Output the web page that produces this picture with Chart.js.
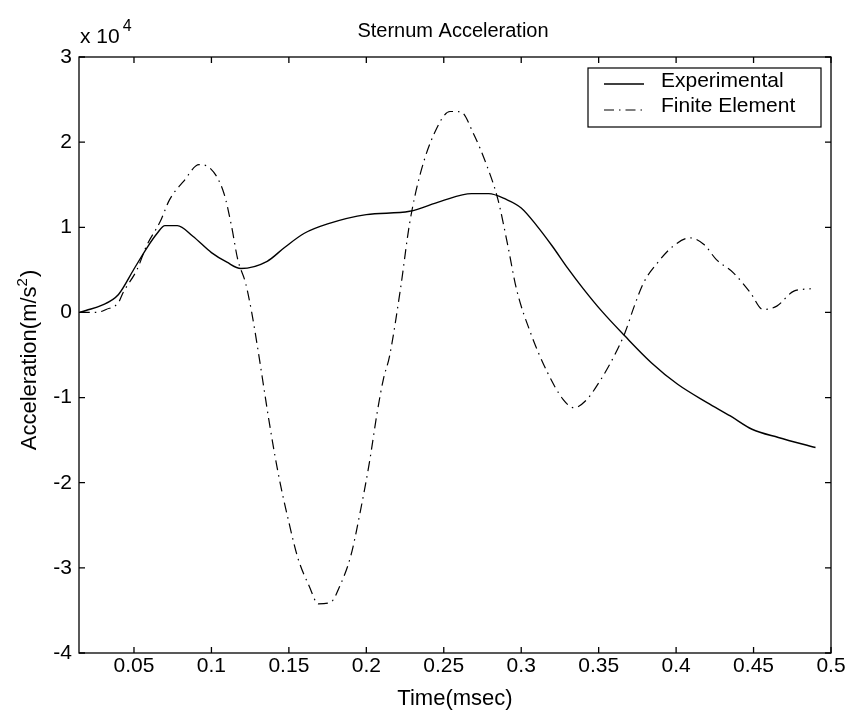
<!DOCTYPE html>
<html>
<head>
<meta charset="utf-8">
<script src="https://cdn.jsdelivr.net/npm/chart.js@4.4.1/dist/chart.umd.min.js"></script>
<style>
  body { margin: 0; background: #fff; }
  #wrap { width: 850px; height: 710px; }
</style>
</head>
<body>
<div id="wrap"><canvas id="accelChart" width="850" height="710"></canvas></div>
<script>
// Veriler
const xTicks = [0.05, 0.1, 0.15, 0.2, 0.25, 0.3, 0.35, 0.4, 0.45, 0.5];
const yTicks = [-40000, -30000, -20000, -10000, 0, 10000, 20000, 30000];

const expTime = [0.015, 0.019, 0.029, 0.040, 0.050, 0.059, 0.065, 0.070, 0.078, 0.088, 0.100, 0.110,
  0.119, 0.136, 0.147, 0.160, 0.175, 0.200, 0.228, 0.248, 0.268, 0.279, 0.290, 0.300, 0.310, 0.320,
  0.330, 0.340, 0.352, 0.367, 0.384, 0.401, 0.420, 0.435, 0.449, 0.466, 0.490];
const expAccel = [0, 230, 820, 2110, 5100, 7770, 9300, 10200, 10200, 8950, 7030, 5900,
  5160, 6010, 7600, 9300, 10400, 11490, 11880, 13050, 13950, 13950, 13300, 12270, 10200, 7800,
  5200, 2800, 150, -2780, -5900, -8440, -10590, -12160, -13720, -14690, -15860];

const feTime = [0.015, 0.026, 0.032, 0.040, 0.043, 0.052, 0.058, 0.067, 0.073, 0.082, 0.092, 0.099,
  0.108, 0.113, 0.117, 0.122, 0.126, 0.130, 0.134, 0.137, 0.143, 0.150, 0.156, 0.163, 0.169, 0.177,
  0.183, 0.190, 0.196, 0.202, 0.207, 0.211, 0.215, 0.222, 0.228, 0.235, 0.244, 0.254, 0.261, 0.269,
  0.278, 0.285, 0.291, 0.297, 0.306, 0.317, 0.327, 0.334, 0.342, 0.351, 0.360, 0.367, 0.373, 0.379,
  0.388, 0.398, 0.409, 0.418, 0.426, 0.437, 0.448, 0.456, 0.465, 0.476, 0.487];
const feAccel = [0, 0, 350, 1170, 2340, 5040, 7770, 10700, 13250, 15390, 17350, 16960,
  14030, 10120, 6210, 3480, 0, -4340, -9030, -12540, -18790, -24650, -28960, -32090, -34230, -34030,
  -32090, -28570, -23480, -17620, -11760, -7850, -5120, 2700, 10520, 16380, 21070, 23600, 23560, 21070,
  17150, 13250, 8170, 2700, -2380, -7070, -10200, -11200, -10300, -8000, -5120, -2380, 740, 3480,
  5830, 7770, 8760, 7970, 6210, 4650, 2310, 350, 740, 2500, 2780];

const FONT = "'Liberation Sans', Arial, Helvetica, sans-serif";

function toPoints(xs, ys) {
  return xs.map((x, i) => ({ x: x, y: ys[i] }));
}

// Çerçeve, iç tikler, başlıklar ve lejant
const matlabFrame = {
  id: "matlabFrame",
  afterDraw(chart) {
    const ctx = chart.ctx;
    const a = chart.chartArea;
    const xs = chart.scales.x;
    const ys = chart.scales.y;
    const tick = 6;

    ctx.save();
    ctx.strokeStyle = "#000";
    ctx.lineWidth = 1.3;
    ctx.setLineDash([]);
    ctx.strokeRect(a.left, a.top, a.right - a.left, a.bottom - a.top);

    ctx.beginPath();
    xTicks.forEach((v) => {
      const px = xs.getPixelForValue(v);
      ctx.moveTo(px, a.bottom); ctx.lineTo(px, a.bottom - tick);
      ctx.moveTo(px, a.top); ctx.lineTo(px, a.top + tick);
    });
    yTicks.forEach((v) => {
      const py = ys.getPixelForValue(v);
      ctx.moveTo(a.left, py); ctx.lineTo(a.left + tick, py);
      ctx.moveTo(a.right, py); ctx.lineTo(a.right - tick, py);
    });
    ctx.stroke();

    ctx.fillStyle = "#000";
    // Başlık
    ctx.font = "20px " + FONT;
    ctx.textAlign = "center";
    ctx.textBaseline = "alphabetic";
    ctx.fillText("Sternum Acceleration", 453, 37);

    // x 10^4
    ctx.textAlign = "left";
    ctx.font = "21px " + FONT;
    ctx.fillText("x 10", 80, 43);
    const w10 = ctx.measureText("x 10").width;
    ctx.font = "16px " + FONT;
    ctx.fillText("4", 80 + w10 + 3, 31);

    // x ekseni başlığı
    ctx.font = "22px " + FONT;
    ctx.textAlign = "center";
    ctx.fillText("Time(msec)", (a.left + a.right) / 2, 705);

    // y ekseni başlığı (üst simgeli)
    ctx.save();
    ctx.translate(36, 360);
    ctx.rotate(-Math.PI / 2);
    ctx.textAlign = "left";
    ctx.font = "22px " + FONT;
    const p1 = "Acceleration(m/s";
    const w1 = ctx.measureText(p1).width;
    ctx.font = "15px " + FONT;
    const w2 = ctx.measureText("2").width;
    ctx.font = "22px " + FONT;
    const w3 = ctx.measureText(")").width;
    let sx = -(w1 + w2 + w3 + 1) / 2;
    ctx.fillText(p1, sx, 0);
    ctx.font = "15px " + FONT;
    ctx.fillText("2", sx + w1, -9);
    ctx.font = "22px " + FONT;
    ctx.fillText(")", sx + w1 + w2 + 1, 0);
    ctx.restore();

    // Lejant
    const box = { l: 588, t: 68, r: 821, b: 127 };
    ctx.fillStyle = "#fff";
    ctx.fillRect(box.l, box.t, box.r - box.l, box.b - box.t);
    ctx.strokeStyle = "#000";
    ctx.lineWidth = 1.2;
    ctx.strokeRect(box.l, box.t, box.r - box.l, box.b - box.t);
    const rows = [87, 112];
    const lineYs = [84, 110];
    chart.data.datasets.forEach((ds, i) => {
      ctx.beginPath();
      ctx.setLineDash(ds.borderDash || []);
      ctx.lineWidth = ds.borderWidth;
      ctx.moveTo(604, lineYs[i]);
      ctx.lineTo(644, lineYs[i]);
      ctx.stroke();
      ctx.setLineDash([]);
      ctx.fillStyle = "#000";
      ctx.font = "21px " + FONT;
      ctx.textAlign = "left";
      ctx.fillText(ds.label, 661, rows[i]);
    });
    ctx.restore();
  },
};

new Chart(document.getElementById("accelChart").getContext("2d"), {
  type: "line",
  data: {
    datasets: [
      {
        label: "Experimental",
        data: toPoints(expTime, expAccel),
        borderColor: "#000",
        borderWidth: 1.4,
        pointRadius: 0,
        cubicInterpolationMode: "monotone",
        borderDash: [],
      },
      {
        label: "Finite Element",
        data: toPoints(feTime, feAccel),
        borderColor: "#000",
        borderWidth: 1.2,
        pointRadius: 0,
        cubicInterpolationMode: "monotone",
        borderDash: [10, 5, 1.5, 5],
      },
    ],
  },
  options: {
    responsive: false,
    animation: false,
    layout: { padding: { left: 0, right: 19, top: 57, bottom: 0 } },
    plugins: {
      legend: { display: false },
      tooltip: { enabled: false },
      title: { display: false },
    },
    scales: {
      x: {
        type: "linear",
        min: 0.0145,
        max: 0.5,
        grid: { display: false, drawTicks: false },
        border: { display: false },
        afterBuildTicks: (scale) => { scale.ticks = xTicks.map((v) => ({ value: v })); },
        afterFit: (scale) => { scale.height = 57; },
        ticks: {
          color: "#000",
          padding: 1,
          maxRotation: 0,
          autoSkip: false,
          font: { family: FONT, size: 21 },
          callback: (v) => String(v),
        },
      },
      y: {
        type: "linear",
        min: -40000,
        max: 30000,
        grid: { display: false, drawTicks: false },
        border: { display: false },
        afterBuildTicks: (scale) => { scale.ticks = yTicks.map((v) => ({ value: v })); },
        afterFit: (scale) => { scale.width = 79; },
        ticks: {
          color: "#000",
          padding: 7,
          autoSkip: false,
          font: { family: FONT, size: 21 },
          callback: (v) => String(v / 10000),
        },
      },
    },
  },
  plugins: [matlabFrame],
});
</script>
</body>
</html>
